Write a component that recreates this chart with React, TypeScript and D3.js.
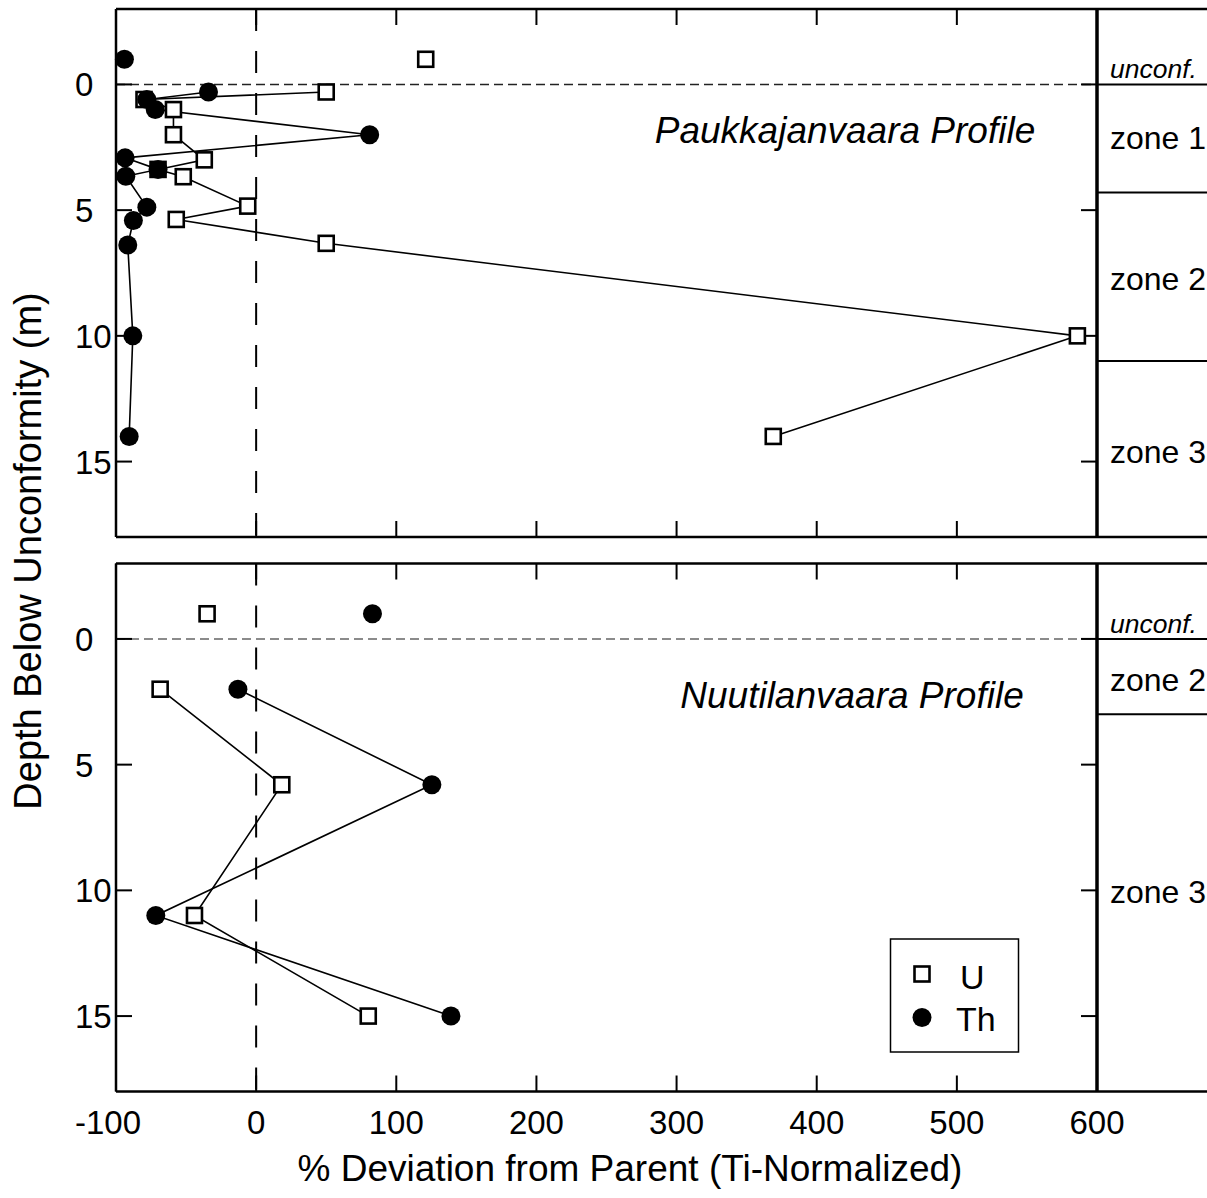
import React from "react";
import * as d3 from "d3";

// ---------- data ----------
const X_TICKS = [-100, 0, 100, 200, 300, 400, 500, 600];
const Y_TICKS = [0, 5, 10, 15];

// Paukkajanvaara profile (depth m, % deviation)
const P_U_DEPTH = [0.3, 0.6, 1.0, 2.0, 3.0, 3.38, 3.67, 4.84, 5.37, 6.32, 10, 14];
const P_U_VALUE = [50, -80, -59, -59, -37, -70, -52, -6, -57, 50, 586, 369];
const P_TH_DEPTH = [0.3, 0.6, 1.0, 2.0, 2.92, 3.38, 3.65, 4.88, 5.41, 6.39, 10, 14];
const P_TH_VALUE = [-34, -78, -72, 81, -93.5, -70, -93, -78, -87.6, -91.6, -88, -90.6];
const P_U_PARENT = { depth: -1, value: 121 };
const P_TH_PARENT = { depth: -1, value: -94 };
const P_ZONES = [
  { name: "zone 1", from: 0, to: 4.3, labelDepth: 2.1 },
  { name: "zone 2", from: 4.3, to: 11, labelDepth: 7.7 },
  { name: "zone 3", from: 11, to: 18, labelDepth: 14.6 },
];

// Nuutilanvaara profile
const N_U_DEPTH = [2, 5.8, 11, 15];
const N_U_VALUE = [-68.5, 18.3, -44, 80];
const N_TH_DEPTH = [2, 5.8, 11, 15];
const N_TH_VALUE = [-13, 125.4, -71.6, 139];
const N_U_PARENT = { depth: -1, value: -35 };
const N_TH_PARENT = { depth: -1, value: 83 };
const N_ZONES = [
  { name: "zone 2", from: 0, to: 3, labelDepth: 1.6 },
  { name: "zone 3", from: 3, to: 18, labelDepth: 10.05 },
];

const FONT = "'Liberation Sans', Arial, Helvetica, sans-serif";

const W = 1207;
const H = 1198;
const X0 = 116;
const X1 = 1097;
const DEPTH_DOMAIN: [number, number] = [-3, 18];

const x = d3.scaleLinear().domain([-100, 600]).range([X0, X1]);

type Pt = { depth: number; value: number };
const zip = (d: number[], v: number[]): Pt[] => d.map((dd, i) => ({ depth: dd, value: v[i] }));

function Square({ cx, cy }: { cx: number; cy: number }) {
  return <rect x={cx - 7.5} y={cy - 7.5} width={15} height={15} fill="#fff" stroke="#000" strokeWidth={2.6} />;
}
function Dot({ cx, cy }: { cx: number; cy: number }) {
  return <circle cx={cx} cy={cy} r={9.5} fill="#000" />;
}

function Panel(props: {
  top: number;
  bottom: number;
  u: Pt[];
  th: Pt[];
  uParent: Pt;
  thParent: Pt;
  zones: { name: string; from: number; to: number; labelDepth: number }[];
  title: string;
  titleX: number;
  titleY: number;
  dashColor: string;
}) {
  const y = d3.scaleLinear().domain(DEPTH_DOMAIN).range([props.top, props.bottom]);
  const line = d3
    .line<Pt>()
    .x((d) => x(d.value))
    .y((d) => y(d.depth));
  const y0 = y(0);
  return (
    <g>
      {/* zero deviation dashed line */}
      <line x1={x(0)} x2={x(0)} y1={props.top} y2={props.bottom} stroke="#000" strokeWidth={2} strokeDasharray="22,20" />
      {/* unconformity dashed line */}
      <line x1={X0} x2={X1} y1={y0} y2={y0} stroke={props.dashColor} strokeWidth={1.6} strokeDasharray="9,5" />
      {/* ticks */}
      {X_TICKS.map((t) => (
        <g key={"xt" + t}>
          <line x1={x(t)} x2={x(t)} y1={props.top} y2={props.top + 16} stroke="#000" strokeWidth={2} />
          <line x1={x(t)} x2={x(t)} y1={props.bottom} y2={props.bottom - 16} stroke="#000" strokeWidth={2} />
        </g>
      ))}
      {Y_TICKS.map((t) => (
        <g key={"yt" + t}>
          <line x1={X0} x2={X0 + 16} y1={y(t)} y2={y(t)} stroke="#000" strokeWidth={2} />
          <line x1={X1} x2={X1 - 16} y1={y(t)} y2={y(t)} stroke="#000" strokeWidth={2} />
          <text x={75} y={y(t) + 12} fontSize={33} fontFamily={FONT} fill="#000">
            {t}
          </text>
        </g>
      ))}
      {/* frame */}
      <line x1={X0} x2={X0} y1={props.top} y2={props.bottom} stroke="#000" strokeWidth={2.5} />
      <line x1={X0} x2={W + 2} y1={props.top} y2={props.top} stroke="#000" strokeWidth={2.5} />
      <line x1={X0} x2={W + 2} y1={props.bottom} y2={props.bottom} stroke="#000" strokeWidth={2.5} />
      <line x1={X1} x2={X1} y1={props.top} y2={props.bottom} stroke="#000" strokeWidth={3.5} />
      {/* zone column */}
      <line x1={X1} x2={W + 2} y1={y0} y2={y0} stroke="#000" strokeWidth={2} />
      <text x={1110} y={y0 - 6} fontSize={26.5} fontStyle="italic" fontFamily={FONT} fill="#000">
        unconf.
      </text>
      {props.zones.map((z) => (
        <g key={z.name}>
          {z.to < DEPTH_DOMAIN[1] && <line x1={X1} x2={W + 2} y1={y(z.to)} y2={y(z.to)} stroke="#000" strokeWidth={2} />}
          <text x={1110} y={y(z.labelDepth) + 11.5} fontSize={32} fontFamily={FONT} fill="#000">
            {z.name}
          </text>
        </g>
      ))}
      {/* series lines */}
      <path d={line(props.u) || ""} fill="none" stroke="#000" strokeWidth={1.6} />
      <path d={line(props.th) || ""} fill="none" stroke="#000" strokeWidth={1.6} />
      {/* markers */}
      {[props.uParent, ...props.u].map((d, i) => (
        <Square key={"u" + i} cx={x(d.value)} cy={y(d.depth)} />
      ))}
      {[props.thParent, ...props.th].map((d, i) => (
        <Dot key={"t" + i} cx={x(d.value)} cy={y(d.depth)} />
      ))}
      <text x={props.titleX} y={props.titleY} fontSize={37} fontStyle="italic" fontFamily={FONT} fill="#000" textAnchor="middle">
        {props.title}
      </text>
    </g>
  );
}

export default function App() {
  const pU = zip(P_U_DEPTH, P_U_VALUE);
  const pTh = zip(P_TH_DEPTH, P_TH_VALUE);
  const nU = zip(N_U_DEPTH, N_U_VALUE);
  const nTh = zip(N_TH_DEPTH, N_TH_VALUE);
  return (
    <svg width={W} height={H} style={{ position: "absolute", left: 0, top: 0, background: "#fff" }}>
      <rect x={0} y={0} width={W} height={H} fill="#fff" />
      <Panel
        top={9}
        bottom={537}
        u={pU}
        th={pTh}
        uParent={P_U_PARENT}
        thParent={P_TH_PARENT}
        zones={P_ZONES}
        title="Paukkajanvaara Profile"
        titleX={845}
        titleY={143}
        dashColor="#222"
      />
      <Panel
        top={563.5}
        bottom={1091.5}
        u={nU}
        th={nTh}
        uParent={N_U_PARENT}
        thParent={N_TH_PARENT}
        zones={N_ZONES}
        title="Nuutilanvaara Profile"
        titleX={852}
        titleY={708}
        dashColor="#666"
      />
      {/* x tick labels */}
      {X_TICKS.map((t) => (
        <text
          key={"xl" + t}
          x={x(t)}
          dx={t < 0 ? -8 : 0}
          y={1134}
          fontSize={33}
          fontFamily={FONT}
          textAnchor="middle"
          fill="#000"
        >
          {t}
        </text>
      ))}
      <text x={630} y={1181} fontSize={37} fontFamily={FONT} textAnchor="middle" fill="#000">
        % Deviation from Parent (Ti-Normalized)
      </text>
      <text
        transform="translate(41,551) rotate(-90)"
        fontSize={38}
        fontFamily={FONT}
        textAnchor="middle"
        fill="#000"
      >
        Depth Below Unconformity (m)
      </text>
      {/* legend */}
      <rect x={890.5} y={939} width={128} height={113} fill="#fff" stroke="#000" strokeWidth={1.5} />
      <Square cx={922} cy={974} />
      <Dot cx={922} cy={1017.5} />
      <text x={960} y={989} fontSize={34} fontFamily={FONT} fill="#000">
        U
      </text>
      <text x={956} y={1030.5} fontSize={34} fontFamily={FONT} fill="#000">
        Th
      </text>
    </svg>
  );
}
